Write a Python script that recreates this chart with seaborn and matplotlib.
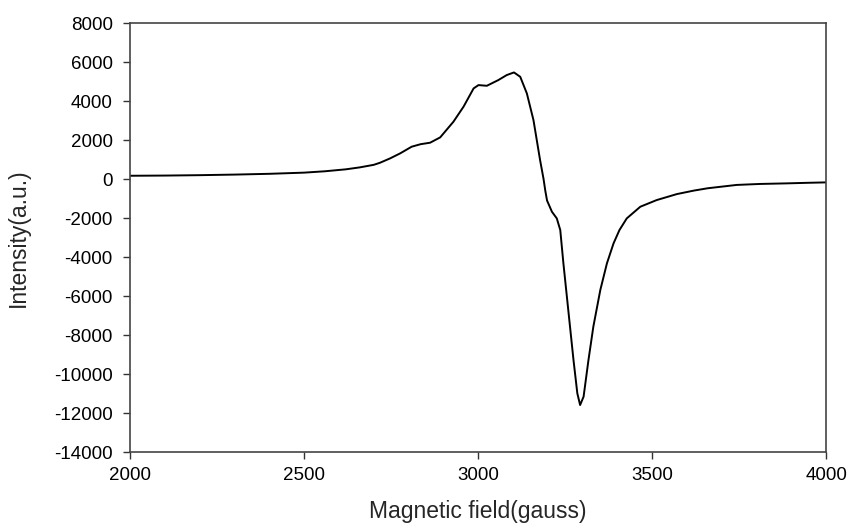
import matplotlib
matplotlib.use("Agg")
import matplotlib.pyplot as plt
import seaborn as sns
import pandas as pd

field = [2000, 2100, 2200, 2300, 2400, 2500, 2560, 2620, 2660, 2700, 2718, 2747, 2776,
         2809, 2835, 2862, 2891, 2929, 2958, 2987, 3001, 3025, 3058, 3082, 3103,
         3121, 3140, 3159, 3178, 3188, 3193, 3198, 3212, 3226, 3236, 3245, 3260,
         3274, 3285, 3293, 3303, 3317, 3331, 3351, 3370, 3389, 3406, 3427, 3466,
         3513, 3571, 3620, 3660, 3743, 3810, 3887, 3950, 4000]
intensity = [170, 180, 200, 230, 270, 330, 400, 500, 600, 730, 836, 1060, 1318,
             1660, 1790, 1865, 2138, 2940, 3710, 4650, 4820, 4785, 5077, 5333, 5470,
             5246, 4394, 3025, 974, 0, -600, -1100, -1675, -2017, -2615, -4325, -6888,
             -9282, -10990, -11590, -11160, -9282, -7573, -5692, -4325, -3300, -2615, -2017, -1418,
             -1077, -770, -590, -470, -300, -250, -220, -190, -170]

df = pd.DataFrame({"field": field, "intensity": intensity})

sns.set_style("white")
plt.rcParams["font.family"] = ["Liberation Sans", "DejaVu Sans"]
plt.rcParams["axes.unicode_minus"] = False

fig = plt.figure(figsize=(8.5, 5.25), dpi=100)
ax = fig.add_axes([0.153, 0.139, 0.819, 0.817])
sns.lineplot(data=df, x="field", y="intensity", ax=ax, color="black", linewidth=1.4)

ax.set_xlim(2000, 4000)
ax.set_ylim(-14000, 8000)
ax.set_xticks([2000, 2500, 3000, 3500, 4000])
ax.set_yticks(list(range(-14000, 8001, 2000)))
ax.set_xlabel("Magnetic field(gauss)", fontsize=16.5, labelpad=11)
ax.set_ylabel("Intensity(a.u.)", fontsize=16.5, labelpad=17)
ax.tick_params(axis="both", direction="out", length=5, width=1, labelsize=13.5,
               colors="#333333", labelcolor="black", bottom=True, left=True, top=False, right=False)
ax.tick_params(axis="x", pad=6)
ax.tick_params(axis="y", pad=7.5)
for s in ax.spines.values():
    s.set_visible(True)
    s.set_color("#444444")
    s.set_linewidth(1.2)

fig.savefig("out.png", dpi=100)
